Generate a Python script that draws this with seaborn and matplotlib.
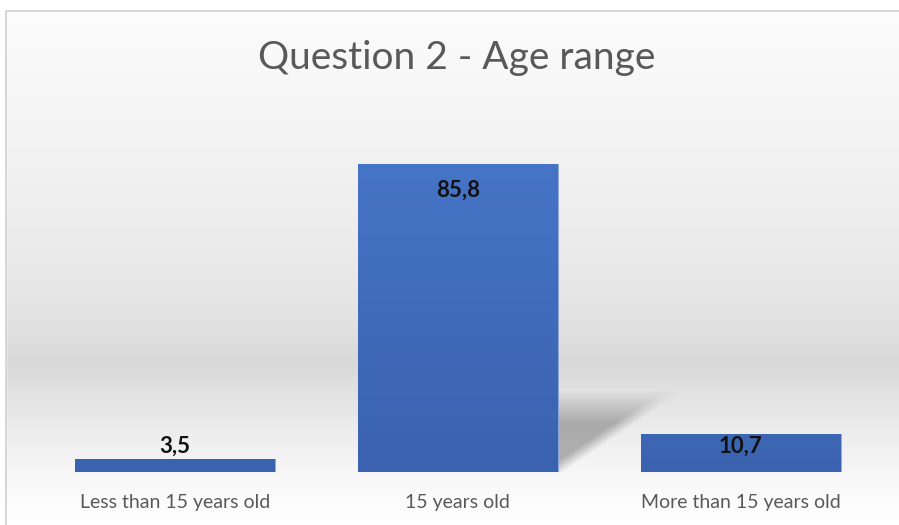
import numpy as np
import matplotlib.pyplot as plt
import seaborn as sns
from matplotlib.patches import Rectangle
from matplotlib.colors import LinearSegmentedColormap

# ── DATA ──
categories = ["Less than 15 years old", "15 years old", "More than 15 years old"]
values     = [3.5, 85.8, 10.7]
labels     = ["3,5", "85,8", "10,7"]
title      = "Question 2 - Age range"

BAR_BLUE  = "#4472C4"
TICK_GREY = "#595959"

sns.set_theme(style="white")
plt.rcParams["font.family"] = ["Lato", "DejaVu Sans"]

W, H = 899, 525
fig = plt.figure(figsize=(W / 100, H / 100), dpi=100)

# ── background panel with grey band ──
bg = fig.add_axes([0, 0, 1, 1], zorder=-10)
bg.set_xlim(0, W); bg.set_ylim(H, 0); bg.axis("off")
stops = [(0.0, "#ffffff"), (11 / H, "#fcfcfc"), (160 / H, "#f2f2f2"),
         (300 / H, "#e6e6e6"), (365 / H, "#d9d9d9"), (430 / H, "#ececec"),
         (480 / H, "#f8f8f8"), (1.0, "#ffffff")]
cmap_bg = LinearSegmentedColormap.from_list("bg", stops)
grad = np.linspace(0, 1, 400).reshape(-1, 1)
bg.imshow(grad, cmap=cmap_bg, aspect="auto", extent=[0, W, H, 0])
bg.add_patch(Rectangle((0, 0), W, 11, color="white", zorder=2))
bg.add_patch(Rectangle((0, 0), 6, H, color="white", zorder=2))
bg.plot([6, 6, W], [H, 11, 11], color="#d0d0d0", lw=1.2, zorder=3)

# ── bars ──
ax_w, ax_h = 882 - 33.5, 359
ax = fig.add_axes([33.5 / W, 53 / H, ax_w / W, ax_h / H])
ax.patch.set_alpha(0)
sns.barplot(x=categories, y=values, color=BAR_BLUE, width=0.707,
            saturation=1, ax=ax, zorder=3)

# blue gradient on each bar (darker at the bottom)
cmap_bar = LinearSegmentedColormap.from_list("bar", ["#3a62ae", "#4674c6"])
for p in ax.patches:
    x0, w, h = p.get_x(), p.get_width(), p.get_height()
    im = ax.imshow(np.linspace(0, 1, 100).reshape(-1, 1), cmap=cmap_bar,
                   aspect="auto", origin="lower",
                   extent=[x0, x0 + w, 0, max(h, 40)], zorder=3.5)
    im.set_clip_path(p)
    p.set_edgecolor("#8faadc"); p.set_linewidth(0.6)

# soft perspective shadow behind the tallest bar
tall = ax.patches[int(np.argmax(values))]
xr = tall.get_x() + tall.get_width()
px_x = ax_w / 3.0          # pixels per x unit
px_y = ax_h / 100.0        # pixels per y unit
sw, sh = 130, 85           # shadow box in pixels
gx, gy = np.meshgrid(np.linspace(0, sw, 260), np.linspace(0, sh, 170))
# diagonal edge from bar foot to top-right corner
d = (gy * 106 - gx * 72) / np.hypot(106, 72)
edge = np.clip((d + 3) / 12, 0, 1)
top = np.clip((82 - gy) / 32, 0, 1)
alpha = 0.5 * edge * top
rgba = np.zeros(gx.shape + (4,))
rgba[..., :3] = 0.42
rgba[..., 3] = alpha
ax.imshow(rgba, origin="lower", aspect="auto", interpolation="bilinear",
          extent=[xr, xr + sw / px_x, 0, sh / px_y], zorder=2)
ax.set_xlim(-0.5, 2.5)
ax.set_ylim(0, 100)

# data labels
for p, v, lab in zip(ax.patches, values, labels):
    cx = p.get_x() + p.get_width() / 2
    if v > 50:
        ax.text(cx, v - 7.3, lab, ha="center", va="center", fontsize=16,
                fontweight="bold", color="#111111", zorder=5)
    elif v > 8:
        ax.text(cx, v - 3.4, lab, ha="center", va="center", fontsize=16,
                fontweight="bold", color="#111111", zorder=5)
    else:
        ax.text(cx, v + 3.6, lab, ha="center", va="center", fontsize=16,
                fontweight="bold", color="#111111", zorder=5)

sns.despine(ax=ax, left=True, bottom=True)
ax.set_yticks([])
ax.tick_params(axis="x", length=0, pad=16, labelsize=14, labelcolor=TICK_GREY)
ax.set_xlabel(""); ax.set_ylabel("")

fig.text(457 / W, 1 - 58 / H, title, ha="center", va="center",
         fontsize=28, color="#595959")

plt.savefig("out.png", dpi=100)
